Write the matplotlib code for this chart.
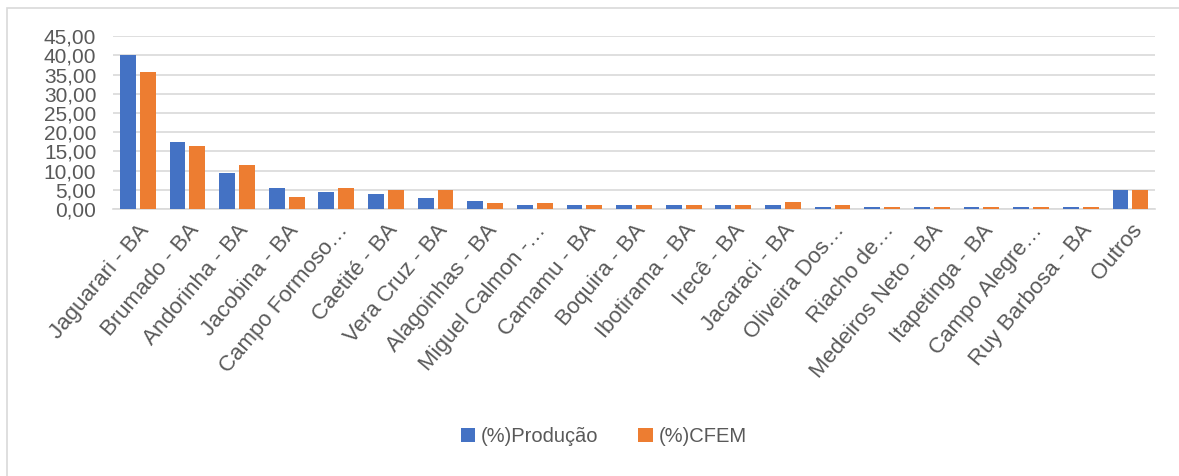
import matplotlib.pyplot as plt
import numpy as np
from matplotlib.patches import Rectangle

plt.rcParams["font.family"] = ["Liberation Sans", "DejaVu Sans"]

# Dados
municipios = [
    "Jaguarari - BA", "Brumado - BA", "Andorinha - BA", "Jacobina - BA",
    "Campo Formoso…", "Caetité - BA", "Vera Cruz - BA", "Alagoinhas - BA",
    "Miguel Calmon -…", "Camamu - BA", "Boquira - BA", "Ibotirama - BA",
    "Irecê - BA", "Jacaraci - BA", "Oliveira Dos…", "Riacho de…",
    "Medeiros Neto - BA", "Itapetinga - BA", "Campo Alegre…", "Ruy Barbosa - BA",
    "Outros",
]
producao = [40.1, 17.4, 9.3, 5.5, 4.4, 3.8, 2.8, 2.2, 1.1, 1.1, 1.1, 1.1,
            1.1, 1.1, 0.6, 0.6, 0.6, 0.6, 0.6, 0.6, 5.0]
cfem = [35.8, 16.4, 11.4, 3.2, 5.5, 4.9, 5.0, 1.6, 1.5, 1.1, 1.1, 1.1,
        1.1, 1.7, 1.1, 0.6, 0.6, 0.6, 0.6, 0.6, 5.0]
yticks = [0, 5, 10, 15, 20, 25, 30, 35, 40, 45]

cor_texto = "#595959"
fig = plt.figure(figsize=(11.79, 4.76), dpi=100)
ax = fig.add_axes([0.0958, 0.561, 0.884, 0.363])

x = np.arange(len(municipios))
w = 0.32
ax.bar(x - 0.2, producao, width=w, color="#4472C4", label="(%)Produção", zorder=3)
ax.bar(x + 0.2, cfem, width=w, color="#ED7D31", label="(%)CFEM", zorder=3)

ax.set_xlim(-0.5, len(municipios) - 0.5)
ax.set_ylim(0, 45)
ax.set_yticks(yticks)
ax.set_yticklabels([f"{v:.2f}".replace(".", ",") for v in yticks],
                   fontsize=15, color=cor_texto)
ax.set_xticks(x)
ax.set_xticklabels(municipios, rotation=50, ha="right", rotation_mode="anchor",
                   fontsize=16, color=cor_texto)
ax.tick_params(axis="both", length=0)
ax.tick_params(axis="y", pad=12)
ax.tick_params(axis="x", pad=8)

ax.grid(axis="y", color="#D9D9D9", linewidth=1.2, zorder=0)
for s in ["top", "right", "left"]:
    ax.spines[s].set_visible(False)
ax.spines["bottom"].set_color("#D9D9D9")
ax.spines["bottom"].set_linewidth(1.2)

fig.legend(loc="center", bbox_to_anchor=(0.512, 0.082), ncol=2, frameon=False,
           fontsize=14.5, labelcolor=cor_texto, handlelength=0.7, handleheight=0.7,
           handletextpad=0.3, columnspacing=2.0)

# Moldura do gráfico
fig.patches.append(Rectangle((7 / 1179, -0.1), 1.2, 1 - 8 / 476 + 0.1,
                             transform=fig.transFigure, fill=False,
                             edgecolor="#D9D9D9", linewidth=1.2))

plt.savefig("out.png", dpi=100)
